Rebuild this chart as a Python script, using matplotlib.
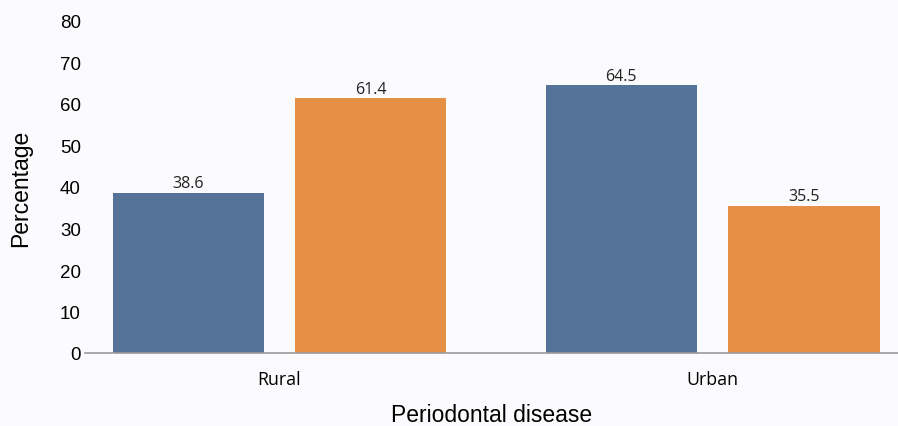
import numpy as np
import matplotlib.pyplot as plt

groups = ["Rural", "Urban"]
blue_vals = [38.6, 64.5]
orange_vals = [61.4, 35.5]
yticks = [0, 10, 20, 30, 40, 50, 60, 70, 80]

blue = "#557399"
orange = "#e69046"
bg = "#fbfbfd"

fig = plt.figure(figsize=(8.98, 4.27), dpi=100, facecolor=bg)
ax = fig.add_axes([85 / 898, 1 - 354 / 427, (898 - 85) / 898, (354 - 22) / 427])
ax.set_facecolor(bg)

x = np.arange(len(groups))
width = 0.349
offset = 0.211

b1 = ax.bar(x - offset, blue_vals, width, color=blue)
b2 = ax.bar(x + offset, orange_vals, width, color=orange)

# value labels just above each bar
for bars, vals in ((b1, blue_vals), (b2, orange_vals)):
    for bar, v in zip(bars, vals):
        ax.text(bar.get_x() + bar.get_width() / 2, v + 2.3, f"{v:.1f}",
                ha="center", va="center", fontsize=11.5, family="Open Sans",
                color="#222222")

ax.set_xlim(-0.449, 1.428)
ax.set_ylim(0, 80)
ax.set_yticks(yticks)
ax.set_yticklabels([str(t) for t in yticks], family="Liberation Sans", fontsize=13.5)
ax.set_xticks(x)
ax.set_xticklabels(groups, family="Open Sans", fontsize=12.8)
ax.tick_params(axis="y", length=0, pad=3)
ax.tick_params(axis="x", length=0, pad=12)

for side in ("top", "right", "left"):
    ax.spines[side].set_visible(False)
ax.spines["bottom"].set_color("#9a9a9a")
ax.spines["bottom"].set_linewidth(1.2)

ax.set_ylabel("Percentage", family="Liberation Sans", fontsize=16.5, labelpad=20)
ax.set_xlabel("Periodontal disease", family="Liberation Sans", fontsize=16.5, labelpad=11)

fig.savefig("out.png", dpi=100, facecolor=bg)
